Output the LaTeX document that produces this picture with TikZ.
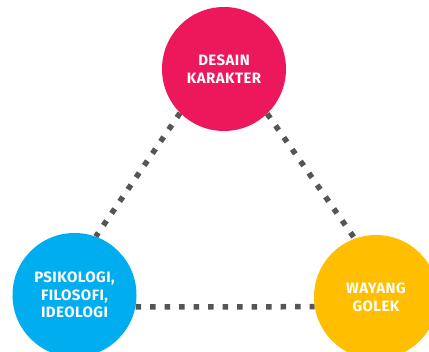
\documentclass[tikz,border=0pt]{standalone}
\usepackage{fontspec}
\setmainfont{Fira Sans}[LetterSpace=3]
\usetikzlibrary{backgrounds}

\definecolor{ccred}{RGB}{237,24,92}
\definecolor{ccblue}{RGB}{0,174,239}
\definecolor{ccyellow}{RGB}{255,190,0}
\definecolor{ccdots}{RGB}{85,85,85}

\tikzset{
  bubble/.style={circle, minimum size=124pt, inner sep=0pt, text=white, align=center,
    font=\fontsize{15}{17.7}\selectfont\bfseries},
  link/.style={ccdots, line width=5.5pt, dash pattern=on 5.5pt off 9pt}
}

\begin{document}
\begin{tikzpicture}[x=1pt, y=-1pt]

  \useasboundingbox (0,0) rectangle (429,352);

  % Circles
  \node[bubble, fill=ccred] (desain) at (224,69) {DESAIN\\KARAKTER};
  \node[bubble, fill=ccblue] (psiko) at (74.5,295) {PSIKOLOGI,\\FILOSOFI,\\IDEOLOGI};
  \node[bubble, fill=ccyellow] (wayang) at (376,297) {WAYANG\\GOLEK};

  % Dotted links (behind the circles)
  \begin{pgfonlayer}{background}
    \draw[link] (desain.225) -- (psiko.70);
    \draw[link] (desain.314) -- (wayang.110);
    \draw[link] (psiko.349) -- (wayang.189);
  \end{pgfonlayer}

\end{tikzpicture}
\end{document}
